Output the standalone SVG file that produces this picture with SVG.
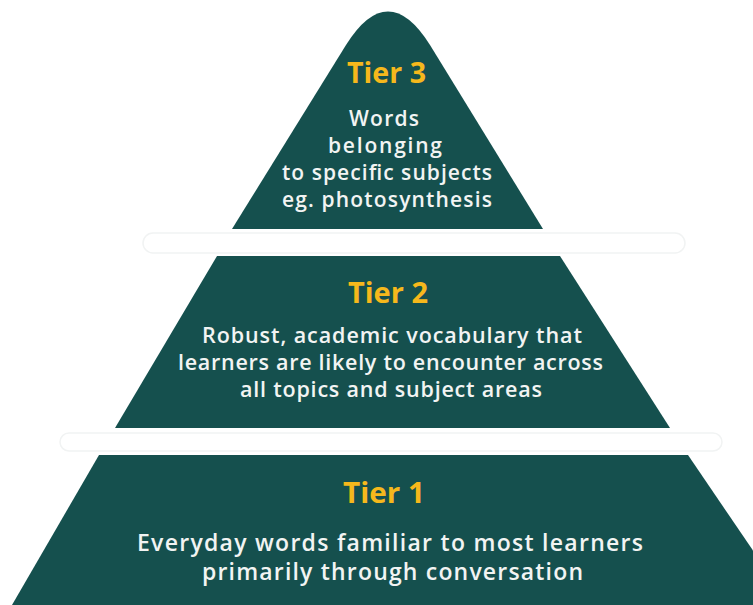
<svg xmlns="http://www.w3.org/2000/svg" width="753" height="605" viewBox="0 0 753 605">
<style>
.tier{fill:#15504e}
.title{font-family:"Open Sans","Liberation Sans",sans-serif;font-weight:700;fill:#f6b81c;text-anchor:middle;font-size:28px}
.body{font-family:"Open Sans","Liberation Sans",sans-serif;font-weight:600;fill:#f2f4f3;text-anchor:middle}
.gap{fill:none;stroke:#f1f3f3;stroke-width:1.5}
</style>
<rect width="753" height="605" fill="#ffffff"/>
<g id="dividers">
<rect class="gap" x="143" y="233" width="542" height="20" rx="10"/>
<rect class="gap" x="60" y="433" width="662" height="18" rx="9"/>
</g>
<g id="tier3">
<path class="tier" d="M232,229 L346,45 Q388,-22 430,45 L543,229 Z"/>
<text class="title" x="386.5" y="83" textLength="79" lengthAdjust="spacingAndGlyphs">Tier 3</text>
<text class="body" x="384" y="126" font-size="21" textLength="70" lengthAdjust="spacing">Words</text>
<text class="body" x="385" y="153" font-size="21" textLength="114" lengthAdjust="spacing">belonging</text>
<text class="body" x="387" y="180" font-size="21" textLength="210" lengthAdjust="spacing">to specific subjects</text>
<text class="body" x="387" y="207" font-size="21" textLength="210" lengthAdjust="spacing">eg. photosynthesis</text>
</g>
<g id="tier2">
<path class="tier" d="M217,256 L560,256 L670,428 L115,428 Z"/>
<text class="title" x="388" y="303" textLength="80" lengthAdjust="spacingAndGlyphs">Tier 2</text>
<text class="body" x="392" y="343" font-size="21.5" textLength="380" lengthAdjust="spacing">Robust, academic vocabulary that</text>
<text class="body" x="390.5" y="370" font-size="21.5" textLength="425" lengthAdjust="spacing">learners are likely to encounter across</text>
<text class="body" x="391" y="397" font-size="21.5" textLength="302" lengthAdjust="spacing">all topics and subject areas</text>
</g>
<g id="tier1">
<path class="tier" d="M99,455 L688,455 L790,605 L12,605 Z"/>
<text class="title" x="384" y="503" textLength="82" lengthAdjust="spacingAndGlyphs">Tier 1</text>
<text class="body" x="390" y="551" font-size="23" textLength="506" lengthAdjust="spacing">Everyday words familiar to most learners</text>
<text class="body" x="392.5" y="580" font-size="23" textLength="381" lengthAdjust="spacing">primarily through conversation</text>
</g>
</svg>
